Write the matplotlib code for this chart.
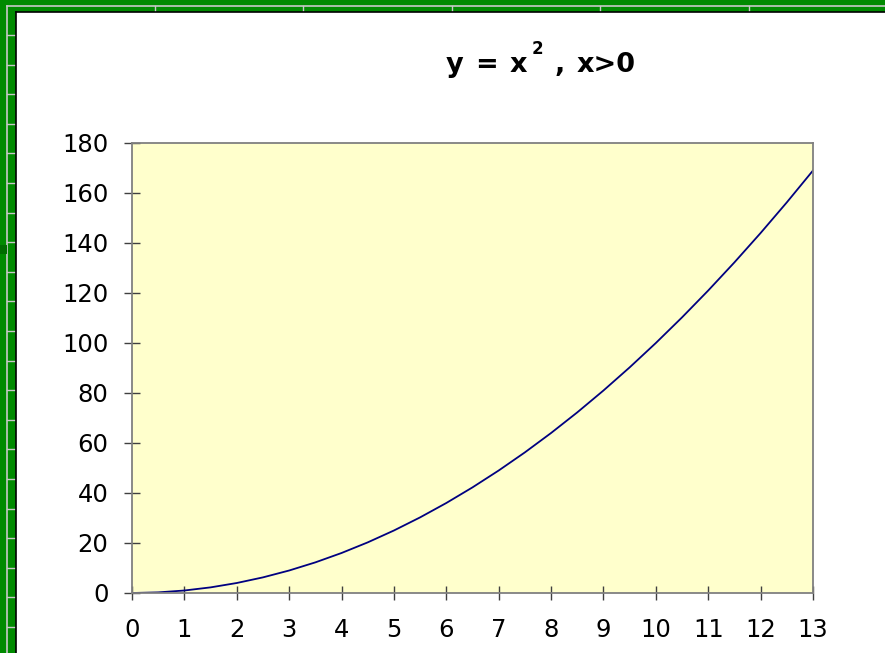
import matplotlib.pyplot as plt
from matplotlib.lines import Line2D
from matplotlib.patches import Rectangle

# curve samples
x_vals = [0, 0.5, 1, 1.5, 2, 2.5, 3, 3.5, 4, 4.5, 5, 5.5, 6, 6.5, 7, 7.5,
          8, 8.5, 9, 9.5, 10, 10.5, 11, 11.5, 12, 12.5, 13]
y_vals = [0, 0.25, 1, 2.25, 4, 6.25, 9, 12.25, 16, 20.25, 25, 30.25, 36,
          42.25, 49, 56.25, 64, 72.25, 81, 90.25, 100, 110.25, 121, 132.25,
          144, 156.25, 169]
x_ticks = list(range(0, 14))
y_ticks = [0, 20, 40, 60, 80, 100, 120, 140, 160, 180]

plt.rcParams['font.family'] = ['DejaVu Sans']

W, H = 885, 653
fig = plt.figure(figsize=(8.85, 6.53), dpi=100)
fig.patch.set_facecolor('#008a00')

def px(x, y):
    return x / W, 1 - y / H

# spreadsheet frame behind the chart
grey = '#c8c8c8'
deco = dict(zorder=-5)
fig.add_artist(Line2D([7 / W, 1], [1 - 6 / H] * 2, color=grey, lw=1.2, **deco))
fig.add_artist(Line2D([7 / W] * 2, [0, 1 - 6 / H], color=grey, lw=1.2, **deco))
for gx in [155, 303, 452, 600, 749]:
    fig.add_artist(Line2D([gx / W] * 2, [1 - 6 / H, 1 - 12 / H], color=grey,
                          lw=1, **deco))
gy = 35
while gy < H:
    fig.add_artist(Line2D([7 / W, 16 / W], [1 - gy / H] * 2, color=grey, lw=1,
                          **deco))
    gy += 29.6
fig.add_artist(Rectangle(px(0, 254), 7 / W, 9 / H, color='#006c00', lw=0,
                         zorder=-4))

# white chart sheet
fig.add_artist(Rectangle(px(16, H), 1, (H - 12) / H, facecolor='white',
                         edgecolor='none', zorder=-3))
fig.add_artist(Line2D([16 / W, 1], [1 - 12 / H] * 2, color='black', lw=1.2,
                      zorder=-2))
fig.add_artist(Line2D([16 / W] * 2, [0, 1 - 12 / H], color='black', lw=1.2,
                      zorder=-2))

ax = fig.add_axes([132 / W, 1 - 593 / H, (813 - 132) / W, (593 - 143) / H])
ax.set_facecolor('#ffffcc')
ax.plot(x_vals, y_vals, color='#000080', lw=1.3)
ax.set_xlim(0, 13)
ax.set_ylim(0, 180)
ax.set_xticks(x_ticks)
ax.set_yticks(y_ticks)
for s in ax.spines.values():
    s.set_color('#808080')
    s.set_linewidth(1.3)
ax.tick_params(axis='y', direction='inout', length=12, width=1, color='#404040',
               labelsize=17.5, pad=11)
ax.tick_params(axis='x', direction='inout', length=10, width=1, color='#404040',
               labelsize=17.5, pad=13)

# title pieces: y = x² , x>0
tkw = dict(fontweight='bold', va='baseline', ha='left', color='black')
fig.text(*px(446, 72), 'y', fontsize=19.5, **tkw)
fig.text(*px(475, 72), '=', fontsize=19.5, **tkw)
fig.text(*px(510, 72), 'x', fontsize=19.5, **tkw)
fig.text(*px(532, 54), '2', fontsize=12, **tkw)
fig.text(*px(555, 72), ',', fontsize=19.5, **tkw)
fig.text(*px(577, 72), 'x>0', fontsize=19.5, **tkw)

fig.savefig('out.png', dpi=100, facecolor=fig.get_facecolor())
